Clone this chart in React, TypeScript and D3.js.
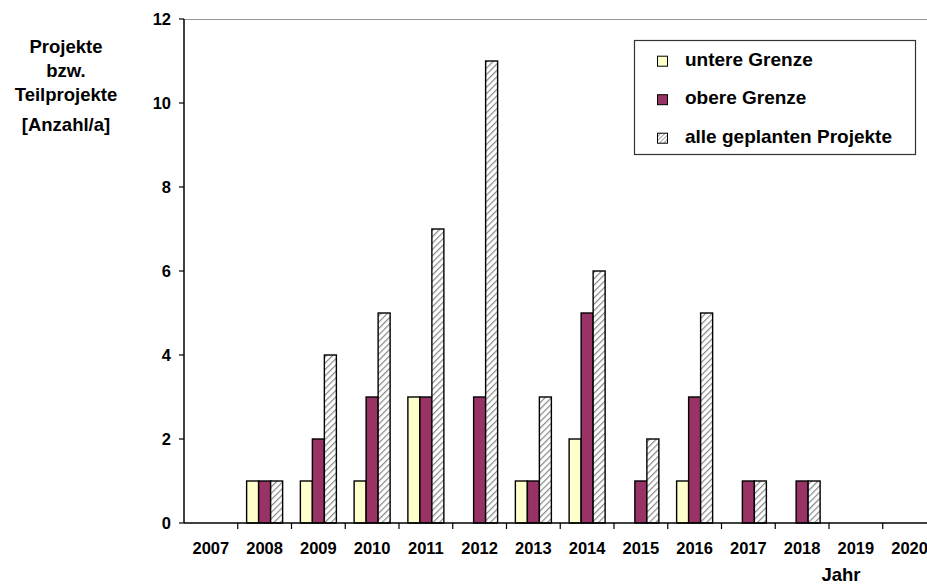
import React from "react";
import * as d3 from "d3";

const years = ["2007", "2008", "2009", "2010", "2011", "2012", "2013", "2014", "2015", "2016", "2017", "2018", "2019", "2020"];
const untereGrenze = [0, 1, 1, 1, 3, 0, 1, 2, 0, 1, 0, 0, 0, 0];
const obereGrenze = [0, 1, 2, 3, 3, 3, 1, 5, 1, 3, 1, 1, 0, 0];
const allePlanten = [0, 1, 4, 5, 7, 11, 3, 6, 2, 5, 1, 1, 0, 0];
const yTicks = [0, 2, 4, 6, 8, 10, 12];
const seriesNames = ["untere Grenze", "obere Grenze", "alle geplanten Projekte"];

const W = 927;
const H = 587;
const plotLeft = 184;
const plotTop = 19;
const plotBottom = 523;
const bandW = 53.75;
const plotRight = plotLeft + bandW * years.length;
const font = "'Liberation Sans', Arial, Helvetica, sans-serif";

export default function App() {
  const x = d3.scaleBand<string>().domain(years).range([plotLeft, plotRight]).paddingInner(0).paddingOuter(0);
  const y = d3.scaleLinear().domain([0, 12]).range([plotBottom, plotTop]);
  const barW = 12;
  const series = [
    { name: seriesNames[0], values: untereGrenze, fill: "#FFFFCC" },
    { name: seriesNames[1], values: obereGrenze, fill: "#993366" },
    { name: seriesNames[2], values: allePlanten, fill: "url(#hatch)" },
  ];
  return (
    <svg width={W} height={H} style={{ position: "absolute", left: 0, top: 0 }}>
      <defs>
        <pattern id="hatch" patternUnits="userSpaceOnUse" width="4.5" height="4.5" patternTransform="rotate(45)">
          <rect width="4.5" height="4.5" fill="#fff" />
          <line x1="0" y1="0" x2="0" y2="4.5" stroke="#888" strokeWidth="2.4" />
        </pattern>
        <pattern id="hatchSmall" patternUnits="userSpaceOnUse" width="3" height="3" patternTransform="rotate(45)">
          <rect width="3" height="3" fill="#fff" />
          <line x1="0" y1="0" x2="0" y2="3" stroke="#777" strokeWidth="1.4" />
        </pattern>
      </defs>
      <rect width={W} height={H} fill="#fff" />
      {/* plot border */}
      <line x1={plotLeft} x2={plotRight} y1={plotTop + 0.5} y2={plotTop + 0.5} stroke="#999" strokeWidth={1.2} />
      {/* bars */}
      {years.map((yr, i) => {
        const cx = (x(yr) as number) + x.bandwidth() / 2;
        const start = cx - (barW * 3) / 2;
        return series.map((s, k) => {
          const v = s.values[i];
          if (v <= 0) return null;
          return (
            <rect
              key={yr + k}
              x={start + k * barW}
              y={y(v)}
              width={barW}
              height={y(0) - y(v)}
              fill={s.fill}
              stroke="#000"
              strokeWidth={1.4}
            />
          );
        });
      })}
      {/* y axis */}
      <line x1={plotLeft} x2={plotLeft} y1={plotTop} y2={plotBottom} stroke="#000" strokeWidth={1.5} />
      {yTicks.map((t) => (
        <g key={t}>
          <line x1={plotLeft - 5} x2={plotLeft} y1={y(t)} y2={y(t)} stroke="#000" strokeWidth={1.2} />
          <text x={171} y={y(t)} dy="0.36em" textAnchor="end" fontFamily={font} fontWeight="bold" fontSize={16.5}>
            {t}
          </text>
        </g>
      ))}
      {/* x axis */}
      <line x1={plotLeft} x2={plotRight} y1={plotBottom} y2={plotBottom} stroke="#000" strokeWidth={1.5} />
      {years.map((yr) => (
        <g key={yr}>
          <line x1={(x(yr) as number) + bandW} x2={(x(yr) as number) + bandW} y1={plotBottom} y2={plotBottom + 6} stroke="#000" strokeWidth={1.2} />
          <text x={(x(yr) as number) + bandW / 2} y={554} textAnchor="middle" fontFamily={font} fontWeight="bold" fontSize={16.5}>
            {yr}
          </text>
        </g>
      ))}
      {/* axis titles */}
      <g fontFamily={font} fontWeight="bold" fontSize={18.5} textAnchor="middle">
        <text x={66} y={53}>Projekte</text>
        <text x={66} y={77}>bzw.</text>
        <text x={66} y={101}>Teilprojekte</text>
        <text x={66} y={131}>[Anzahl/a]</text>
        <text x={841} y={581}>Jahr</text>
      </g>
      {/* legend */}
      <rect x={634.5} y={40.5} width={281} height={114} fill="#fff" stroke="#333" strokeWidth={1.2} />
      {series.map((s, k) => {
        const base = 65.7 + k * 38.5;
        return (
          <g key={s.name}>
            <rect x={657.5} y={base - 9.5} width={10} height={10} fill={k === 2 ? "url(#hatchSmall)" : s.fill} stroke="#000" strokeWidth={1} />
            <text x={685} y={base} fontFamily={font} fontWeight="bold" fontSize={19}>
              {s.name}
            </text>
          </g>
        );
      })}
    </svg>
  );
}
